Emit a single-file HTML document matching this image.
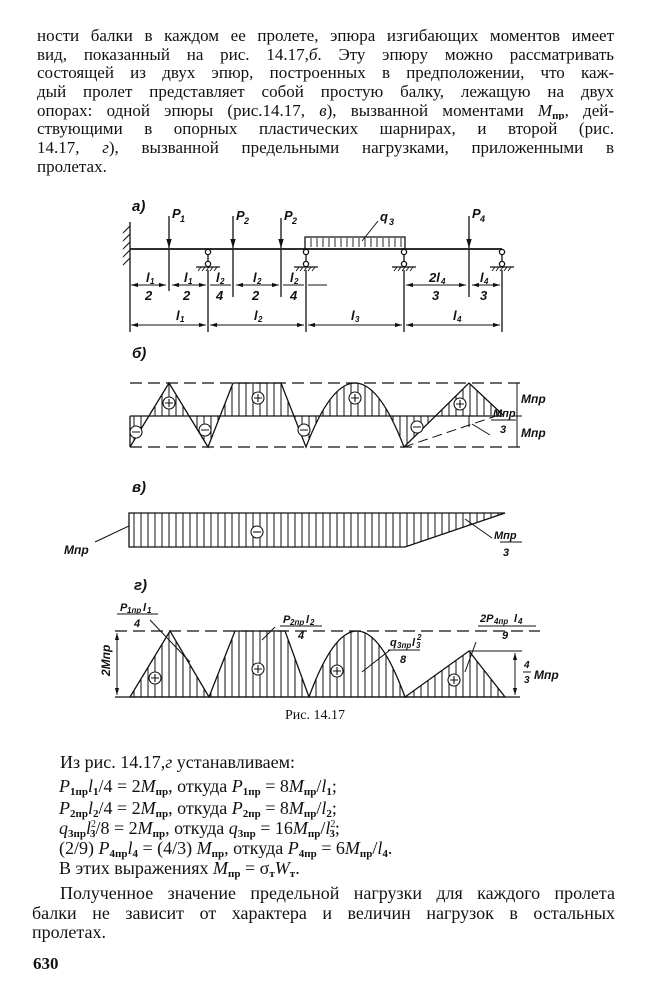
<!DOCTYPE html>
<html><head><meta charset="utf-8"><style>
html,body{margin:0;padding:0;background:#fff;}
body{width:648px;height:1000px;position:relative;overflow:hidden;font-family:"Liberation Serif","Noto Serif CJK SC",serif;color:#111;}
.l{position:absolute;left:37px;width:577px;height:19px;line-height:19px;font-size:17px;text-align:justify;text-align-last:justify;overflow:hidden;white-space:nowrap;}
.b{position:absolute;height:21px;line-height:21px;font-size:18px;white-space:nowrap;}
.j{text-align:justify;text-align-last:justify;}
sub{font-size:11px;vertical-align:-3px;line-height:0;font-style:normal;font-weight:bold;}
sup{font-size:10px;line-height:0;}
i{font-style:italic;}
svg{position:absolute;left:0;top:0;}
svg text{font-family:"Liberation Sans",sans-serif;font-style:italic;font-weight:bold;fill:#111;}
svg text.cap{font-family:"Liberation Serif",serif;font-style:normal;font-weight:normal;}
</style></head><body>
<div class="l" style="top:26px">ности балки в каждом ее пролете, эпюра изгибающих моментов имеет</div>
<div class="l" style="top:45px">вид, показанный на рис. 14.17,<i>б</i>. Эту эпюру можно рассматривать</div>
<div class="l" style="top:63px">состоящей из двух эпюр, построенных в предположении, что каж-</div>
<div class="l" style="top:82px">дый пролет представляет собой простую балку, лежащую на двух</div>
<div class="l" style="top:101px">опорах: одной эпюры (рис.14.17, <i>в</i>), вызванной моментами <i>M</i><sub>пр</sub>, дей-</div>
<div class="l" style="top:119px">ствующими в опорных пластических шарнирах, и второй (рис.</div>
<div class="l" style="top:138px">14.17, <i>г</i>), вызванной предельными нагрузками, приложенными в</div>
<div class="l" style="top:157px;text-align-last:left">пролетах.</div>

<svg width="648" height="1000" viewBox="0 0 648 1000">
<defs>
<pattern id="h" patternUnits="userSpaceOnUse" width="7" height="10"><line x1="1" y1="0" x2="1" y2="10" stroke="#111" stroke-width="1"/></pattern>
<marker id="ar" viewBox="0 0 10 10" refX="10" refY="5" markerWidth="7" markerHeight="7" orient="auto-start-reverse"><path d="M0,2 L10,5 L0,8 z" fill="#111"/></marker>
</defs>
<g stroke="#111" fill="none" stroke-width="1.3">
<line x1="130" y1="222" x2="130" y2="332"/>
<g stroke-width="1">
<line x1="130" y1="226" x2="123" y2="233"/><line x1="130" y1="234" x2="123" y2="241"/><line x1="130" y1="242" x2="123" y2="249"/><line x1="130" y1="250" x2="123" y2="257"/><line x1="130" y1="258" x2="123" y2="265"/>
</g>
<line x1="130" y1="249" x2="502" y2="249" stroke-width="1.8"/>
<g>
<circle cx="208" cy="252" r="2.6" fill="#fff"/><circle cx="208" cy="264" r="2.6" fill="#fff"/><line x1="208" y1="255" x2="208" y2="261"/><line x1="196" y1="267" x2="220" y2="267"/>
<circle cx="306" cy="252" r="2.6" fill="#fff"/><circle cx="306" cy="264" r="2.6" fill="#fff"/><line x1="306" y1="255" x2="306" y2="261"/><line x1="294" y1="267" x2="318" y2="267"/>
<circle cx="404" cy="252" r="2.6" fill="#fff"/><circle cx="404" cy="264" r="2.6" fill="#fff"/><line x1="404" y1="255" x2="404" y2="261"/><line x1="392" y1="267" x2="416" y2="267"/>
<circle cx="502" cy="252" r="2.6" fill="#fff"/><circle cx="502" cy="264" r="2.6" fill="#fff"/><line x1="502" y1="255" x2="502" y2="261"/><line x1="490" y1="267" x2="514" y2="267"/>
<g stroke-width="0.9">
<path d="M198,271 l3,-4 M202,271 l3,-4 M206,271 l3,-4 M210,271 l3,-4 M214,271 l3,-4"/>
<path d="M296,271 l3,-4 M300,271 l3,-4 M304,271 l3,-4 M308,271 l3,-4 M312,271 l3,-4"/>
<path d="M394,271 l3,-4 M398,271 l3,-4 M402,271 l3,-4 M406,271 l3,-4 M410,271 l3,-4"/>
<path d="M492,271 l3,-4 M496,271 l3,-4 M500,271 l3,-4 M504,271 l3,-4 M508,271 l3,-4"/>
</g>
</g>
<line x1="208" y1="270" x2="208" y2="332"/><line x1="306" y1="270" x2="306" y2="332"/><line x1="404" y1="270" x2="404" y2="332"/><line x1="502" y1="270" x2="502" y2="332"/>
<line x1="169" y1="216" x2="169" y2="248" marker-end="url(#ar)"/><line x1="169" y1="249" x2="169" y2="291"/>
<line x1="233" y1="216" x2="233" y2="248" marker-end="url(#ar)"/><line x1="233" y1="249" x2="233" y2="297"/>
<line x1="281" y1="218" x2="281" y2="248" marker-end="url(#ar)"/><line x1="281" y1="249" x2="281" y2="297"/>
<line x1="469" y1="216" x2="469" y2="248" marker-end="url(#ar)"/><line x1="469" y1="249" x2="469" y2="297"/>
<path d="M305,249 V237 H405 V249"/>
<g stroke-width="0.9">
<path d="M311,238 v9 M317,238 v9 M323,238 v9 M329,238 v9 M335,238 v9 M341,238 v9 M347,238 v9 M353,238 v9 M359,238 v9 M365,238 v9 M371,238 v9 M377,238 v9 M383,238 v9 M389,238 v9 M395,238 v9 M401,238 v9"/>
</g>
<line x1="362" y1="241" x2="378" y2="221" stroke-width="1"/>
<g stroke-width="1">
<line x1="131" y1="285" x2="166" y2="285" marker-start="url(#ar)" marker-end="url(#ar)"/>
<line x1="172" y1="285" x2="206" y2="285" marker-start="url(#ar)" marker-end="url(#ar)"/>
<line x1="210" y1="285" x2="231" y2="285"/>
<line x1="236" y1="285" x2="279" y2="285" marker-start="url(#ar)" marker-end="url(#ar)"/>
<line x1="283" y1="285" x2="304" y2="285"/>
<line x1="308" y1="285" x2="327" y2="285"/>
<line x1="406" y1="285" x2="466" y2="285" marker-start="url(#ar)" marker-end="url(#ar)"/>
<line x1="472" y1="285" x2="500" y2="285" marker-start="url(#ar)" marker-end="url(#ar)"/>
<line x1="131" y1="325" x2="206" y2="325" marker-start="url(#ar)" marker-end="url(#ar)"/>
<line x1="210" y1="325" x2="304" y2="325" marker-start="url(#ar)" marker-end="url(#ar)"/>
<line x1="308" y1="325" x2="402" y2="325" marker-start="url(#ar)" marker-end="url(#ar)"/>
<line x1="406" y1="325" x2="500" y2="325" marker-start="url(#ar)" marker-end="url(#ar)"/>
</g>

<!-- б) -->
<path fill="url(#h)" fill-rule="evenodd" stroke="none" d="M130,447 L169,383 L208,447 L233,383 L281,383 L306,447 Q355,319 404,447 Z M130,416 H404 V447 H130 Z"/>
<path fill="url(#h)" stroke="none" d="M435.5,416 L469,383 L503,415 Z M404,416 L404,447 L435.5,416 Z"/>
<path d="M130,383 H520 M130,447 H520" stroke-dasharray="12,6"/>
<line x1="130" y1="416" x2="502" y2="416"/>
<line x1="130" y1="416" x2="130" y2="447"/>
<path d="M130,447 L169,383 L208,447 L233,383 L281,383 L306,447 Q355,319 404,447 L469,383 L503,415"/>
<path d="M404,447 L502,414" stroke-dasharray="10,5" stroke-width="1"/>
<path d="M469,416 V427 M472,424 L490,435" stroke-width="1"/>
<g stroke-width="1">
<line x1="517" y1="383" x2="517" y2="447"/>
<line x1="512" y1="416" x2="522" y2="416"/>
</g>
<!-- в) -->
<path d="M129,513 H505 L405,547 H129 Z" fill="url(#h)"/>
<line x1="95" y1="542" x2="129" y2="526" stroke-width="1"/>
<line x1="465" y1="519" x2="492" y2="538" stroke-width="1"/>
<line x1="500" y1="542" x2="522" y2="542" stroke-width="1"/>
<!-- г) -->
<path d="M115,631 H540" stroke-dasharray="12,6"/>
<line x1="115" y1="697" x2="520" y2="697"/>
<path d="M130,697 L170,631 L209,697 Z" fill="url(#h)"/>
<path d="M209,697 L235,631 L285,631 L309,697 Z" fill="url(#h)"/>
<path d="M309,697 Q357,565 405,697 Z" fill="url(#h)"/>
<path d="M405,697 L469,651 L505,697 Z" fill="url(#h)"/>
<line x1="469" y1="651" x2="522" y2="651" stroke-width="1"/>
<g stroke-width="1">
<line x1="117" y1="633" x2="117" y2="695" marker-start="url(#ar)" marker-end="url(#ar)"/>
<line x1="515" y1="653" x2="515" y2="695" marker-start="url(#ar)" marker-end="url(#ar)"/>
<line x1="150" y1="620" x2="190" y2="662"/>
<line x1="275" y1="627" x2="262" y2="640"/>
<line x1="362" y1="672" x2="390" y2="650"/>
<line x1="465" y1="672" x2="476" y2="642"/>
<line x1="117" y1="614" x2="158" y2="614"/>
<line x1="280" y1="626" x2="322" y2="626"/>
<line x1="388" y1="650" x2="420" y2="650"/>
<line x1="478" y1="626" x2="536" y2="626"/>
<line x1="491" y1="420" x2="516" y2="420"/>
</g>
<g stroke-width="1.1" fill="#fff">
<circle cx="136" cy="432" r="6"/><circle cx="169" cy="403" r="6"/><circle cx="205" cy="430" r="6"/><circle cx="258" cy="398" r="6"/><circle cx="304" cy="430" r="6"/><circle cx="355" cy="398" r="6"/><circle cx="417" cy="427" r="6"/><circle cx="460" cy="404" r="6"/>
<circle cx="257" cy="532" r="6"/>
<circle cx="155" cy="678" r="6"/><circle cx="258" cy="669" r="6"/><circle cx="337" cy="671" r="6"/><circle cx="454" cy="680" r="6"/>
</g>
<g stroke-width="1.1">
<path d="M132,432 h8 M165,403 h8 M169,399 v8 M201,430 h8 M254,398 h8 M258,394 v8 M300,430 h8 M351,398 h8 M355,394 v8 M413,427 h8 M456,404 h8 M460,400 v8"/>
<path d="M253,532 h8"/>
<path d="M151,678 h8 M155,674 v8 M254,669 h8 M258,665 v8 M333,671 h8 M337,667 v8 M450,680 h8 M454,676 v8"/>
</g>
</g>

<g font-size="15">
<text x="132" y="211">a)</text>
<text x="132" y="358">б)</text>
<text x="132" y="492">в)</text>
<text x="134" y="590">г)</text>
</g>
<g font-size="13">
<text x="172" y="218">P</text><text x="180" y="222" font-size="9">1</text>
<text x="236" y="220">P</text><text x="244" y="224" font-size="9">2</text>
<text x="284" y="220">P</text><text x="292" y="224" font-size="9">2</text>
<text x="472" y="218">P</text><text x="480" y="222" font-size="9">4</text>
<text x="380" y="221">q</text><text x="389" y="225" font-size="9">3</text>
<text x="146" y="282">l</text><text x="150" y="284" font-size="8">1</text><text x="145" y="300">2</text>
<text x="184" y="282">l</text><text x="188" y="284" font-size="8">1</text><text x="183" y="300">2</text>
<text x="216" y="282">l</text><text x="220" y="284" font-size="8">2</text><text x="216" y="300">4</text>
<text x="253" y="282">l</text><text x="257" y="284" font-size="8">2</text><text x="252" y="300">2</text>
<text x="290" y="282">l</text><text x="294" y="284" font-size="8">2</text><text x="290" y="300">4</text>
<text x="429" y="282">2l</text><text x="441" y="284" font-size="8">4</text><text x="432" y="300">3</text>
<text x="480" y="282">l</text><text x="484" y="284" font-size="8">4</text><text x="480" y="300">3</text>
<text x="176" y="320">l</text><text x="180" y="322" font-size="8">1</text>
<text x="254" y="320">l</text><text x="258" y="322" font-size="8">2</text>
<text x="351" y="320">l</text><text x="355" y="322" font-size="8">3</text>
<text x="453" y="320">l</text><text x="457" y="322" font-size="8">4</text>
<text x="521" y="403" font-size="12">Mпр</text>
<text x="521" y="437" font-size="12">Mпр</text>
<text x="493" y="417" font-size="11">Mпр</text><text x="500" y="433" font-size="11">3</text>
<text x="64" y="554" font-size="12">Mпр</text>
<text x="494" y="539" font-size="11">Mпр</text><text x="503" y="556" font-size="11">3</text>
<text x="120" y="611" font-size="11">P</text><text x="127" y="613" font-size="8">1пр</text><text x="143" y="611" font-size="11">l</text><text x="147" y="613" font-size="8">1</text><text x="134" y="627" font-size="11">4</text>
<text x="283" y="623" font-size="11">P</text><text x="290" y="625" font-size="8">2пр</text><text x="306" y="623" font-size="11">l</text><text x="310" y="625" font-size="8">2</text><text x="298" y="639" font-size="11">4</text>
<text x="390" y="646" font-size="11">q</text><text x="397" y="648" font-size="8">3пр</text><text x="412" y="646" font-size="11">l</text><text x="416" y="648" font-size="8">3</text><text x="417" y="640" font-size="8">2</text><text x="400" y="663" font-size="11">8</text>
<text x="480" y="622" font-size="11">2P</text><text x="494" y="624" font-size="8">4пр</text><text x="514" y="622" font-size="11">l</text><text x="518" y="624" font-size="8">4</text><text x="502" y="639" font-size="11">9</text>
<text x="524" y="668" font-size="10">4</text><line x1="523" y1="672" x2="531" y2="672" stroke="#111"/><text x="524" y="683" font-size="10">3</text><text x="534" y="679" font-size="12">Mпр</text>
<text transform="translate(110,676) rotate(-90)" font-size="12">2Mпр</text>
</g>
<text class="cap" x="285" y="719" font-size="14">Рис. 14.17</text>
</svg>

<div class="b" style="left:60px;top:752px">Из рис. 14.17,<i>г</i> устанавливаем:</div>
<div class="b" style="left:59px;top:776px"><i>P</i><sub>1пр</sub><i>l</i><sub>1</sub>/4 = 2<i>M</i><sub>пр</sub>, откуда <i>P</i><sub>1пр</sub> = 8<i>M</i><sub>пр</sub>/<i>l</i><sub>1</sub>;</div>
<div class="b" style="left:59px;top:798px"><i>P</i><sub>2пр</sub><i>l</i><sub>2</sub>/4 = 2<i>M</i><sub>пр</sub>, откуда <i>P</i><sub>2пр</sub> = 8<i>M</i><sub>пр</sub>/<i>l</i><sub>2</sub>;</div>
<div class="b" style="left:59px;top:818px"><i>q</i><sub>3пр</sub><i>l</i><sup>2</sup><sub style="margin-left:-6px">3</sub>/8 = 2<i>M</i><sub>пр</sub>, откуда <i>q</i><sub>3пр</sub> = 16<i>M</i><sub>пр</sub>/<i>l</i><sup>2</sup><sub style="margin-left:-6px">3</sub>;</div>
<div class="b" style="left:59px;top:838px">(2/9) <i>P</i><sub>4пр</sub><i>l</i><sub>4</sub> = (4/3) <i>M</i><sub>пр</sub>, откуда <i>P</i><sub>4пр</sub> = 6<i>M</i><sub>пр</sub>/<i>l</i><sub>4</sub>.</div>
<div class="b" style="left:59px;top:858px">В этих выражениях <i>M</i><sub>пр</sub> = σ<sub>т</sub><i>W</i><sub>т</sub>.</div>
<div class="b j" style="left:60px;width:555px;top:883px">Полученное значение предельной нагрузки для каждого пролета</div>
<div class="b j" style="left:32px;width:583px;top:903px">балки не зависит от характера и величин нагрузок в остальных</div>
<div class="b" style="left:32px;top:922px">пролетах.</div>
<div class="b" style="left:33px;top:953px;font-size:17px;font-weight:bold">630</div>
</body></html>
